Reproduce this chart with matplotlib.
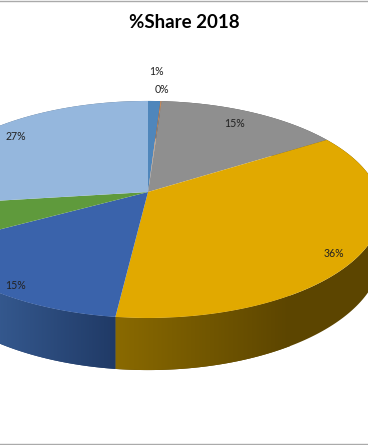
import numpy as np
import matplotlib
matplotlib.use("Agg")
import matplotlib.pyplot as plt
from matplotlib.colors import LinearSegmentedColormap
from matplotlib.patches import Polygon

title = "%Share 2018"
values = [1, 0.1, 14.9, 35.9, 15.1, 6, 27]
top_colors = ["#4f86bb", "#c98a5a", "#8f8f8f", "#e1a900", "#3a63ab", "#5f9a3c", "#95b7dd"]
wall_colors = ["#2f5070", "#804a20", "#565656", "#5c4500", "#233c67", "#395d24", "#5a6e85"]
label_x = [156, 162, 235, 334, 16, None, 16]
label_y = [71.5, 89.5, 123.5, 253.5, 285.5, None, 136.5]

# pie projection, in pixels
cx, cy = 148, 192
sx, sy = 230, 105.7
k = 0.161
depth = 43.7


def project(angle, drop=False):
    u = np.sin(angle)
    v = -np.cos(angle)
    w = 1 - k * v
    y = cy + sy * v / w
    if drop:
        y = y + depth / w
    return cx + sx * u / w, y


def slice_arc(start, end):
    return np.linspace(start, end, max(int(np.degrees(end - start)), 2) * 2)


fig = plt.figure(figsize=(3.68, 4.45), dpi=100)
ax = fig.add_axes([0, 0, 1, 1])

edges = np.radians(np.cumsum([0] + values) / sum(values) * 360)

# side walls first, the top faces cover what is hidden
for i in range(len(values)):
    t = slice_arc(edges[i], edges[i + 1])
    x0, y0 = project(t)
    x1, y1 = project(t, drop=True)
    pts = np.column_stack([np.r_[x0, x1[::-1]], np.r_[y0, y1[::-1]]])
    poly = Polygon(pts, closed=True, fc=wall_colors[i], ec="none", zorder=1)
    ax.add_patch(poly)

    if i == 3:
        cmap = LinearSegmentedColormap.from_list("w", ["#8a6a00", "#5c4500"])
        im = ax.imshow(np.linspace(0, 1, 256)[None, :], cmap=cmap, aspect="auto",
                       extent=(x0.min(), 290, 445, 0), zorder=2)
        im.set_clip_path(poly)
    if i == 4:
        cmap = LinearSegmentedColormap.from_list("w", ["#35598f", "#203a66"])
        im = ax.imshow(np.linspace(0, 1, 256)[None, :], cmap=cmap, aspect="auto",
                       extent=(-5, x0.max(), 445, 0), zorder=2)
        im.set_clip_path(poly)

for i in range(len(values)):
    t = slice_arc(edges[i], edges[i + 1])
    x0, y0 = project(t)
    pts = np.column_stack([np.r_[cx, x0], np.r_[cy, y0]])
    ax.add_patch(Polygon(pts, closed=True, fc=top_colors[i], ec="none", zorder=3))

for v, x, y in zip(values, label_x, label_y):
    if x is not None:
        ax.text(x, y, f"{v:.0f}%", ha="center", va="center", fontsize=7.6,
                family="Lato", color="#222222", zorder=5)

ax.text(184, 22.5, title, ha="center", va="center", fontsize=13.5, family="Lato",
        fontweight="bold", color="black", zorder=5)

# chart frame lines
ax.axhline(1, color="#aaaaaa", lw=1, zorder=6)
ax.axhline(443.5, color="#aaaaaa", lw=1, zorder=6)

ax.set_xlim(0, 368)
ax.set_ylim(445, 0)
ax.axis("off")

fig.savefig("out.png", dpi=100)
